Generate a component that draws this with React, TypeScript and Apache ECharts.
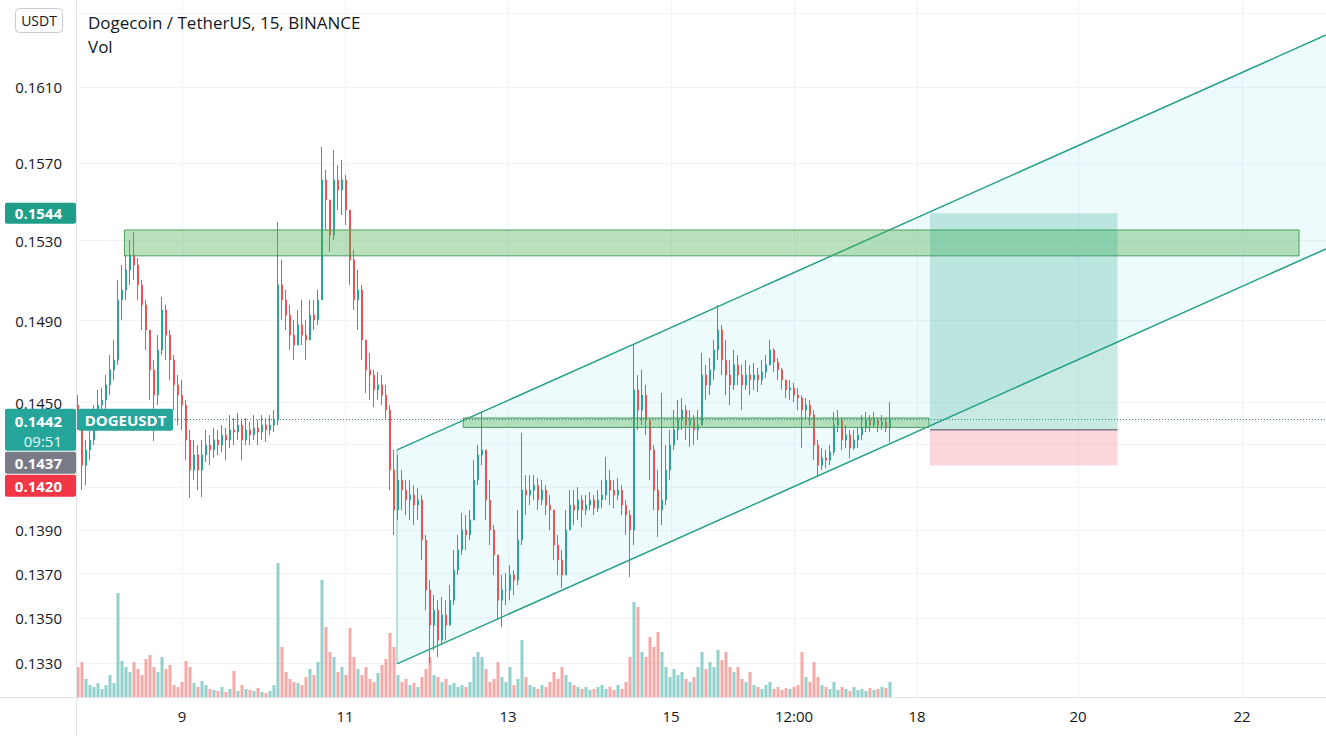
import React, { useEffect, useRef } from "react";
import * as echarts from "echarts";

// ---- Data (DOGE/USDT, one row per bar; opens follow the previous close) ----
const firstOpen = 0.14488;
const closes = [
  0.14416, 0.14202, 0.14274, 0.14321, 0.14416, 0.14488, 0.14512, 0.14585, 0.14658, 0.14706,
  0.15002, 0.15052, 0.15152, 0.15228, 0.15177, 0.15077, 0.14977, 0.14853, 0.14658, 0.14536,
  0.14755, 0.14952, 0.14828, 0.14706, 0.14585, 0.14536, 0.14488, 0.14321, 0.14179, 0.14250,
  0.14179, 0.14250, 0.14297, 0.14274, 0.14321, 0.14297, 0.14345, 0.14321, 0.14369, 0.14359,
  0.14392, 0.14321, 0.14369, 0.14345, 0.14378, 0.14359, 0.14392, 0.14369, 0.14392, 0.14416,
  0.15077, 0.15002, 0.14927, 0.14828, 0.14779, 0.14878, 0.14828, 0.14804, 0.14927, 0.14903,
  0.15002, 0.15611, 0.15508, 0.15329, 0.15611, 0.15559, 0.15611, 0.15456, 0.15202, 0.15002,
  0.15052, 0.14804, 0.14658, 0.14633, 0.14561, 0.14585, 0.14536, 0.14464, 0.14179, 0.13992,
  0.14132, 0.14085, 0.14039, 0.14062, 0.14015, 0.14039, 0.13854, 0.13626, 0.13468, 0.13535,
  0.13401, 0.13513, 0.13468, 0.13580, 0.13716, 0.13808, 0.13900, 0.13877, 0.13946, 0.14132,
  0.14250, 0.14274, 0.14039, 0.13900, 0.13785, 0.13580, 0.13626, 0.13626, 0.13694, 0.13671,
  0.13854, 0.14085, 0.14062, 0.14085, 0.14108, 0.14039, 0.14085, 0.14015, 0.13992, 0.13831,
  0.13762, 0.13694, 0.13900, 0.14015, 0.13992, 0.14039, 0.13992, 0.14015, 0.14039, 0.14001,
  0.14039, 0.14062, 0.14132, 0.14085, 0.14062, 0.14085, 0.14015, 0.13969, 0.13900, 0.14561,
  0.14464, 0.14536, 0.14416, 0.14274, 0.14085, 0.13992, 0.14039, 0.14179, 0.14297, 0.14369,
  0.14416, 0.14464, 0.14392, 0.14416, 0.14369, 0.14392, 0.14633, 0.14585, 0.14658, 0.14755,
  0.14853, 0.14706, 0.14633, 0.14585, 0.14682, 0.14633, 0.14585, 0.14633, 0.14609, 0.14633,
  0.14609, 0.14648, 0.14682, 0.14755, 0.14696, 0.14658, 0.14609, 0.14561, 0.14570, 0.14536,
  0.14522, 0.14464, 0.14488, 0.14440, 0.14297, 0.14202, 0.14236, 0.14226, 0.14264, 0.14392,
  0.14416, 0.14321, 0.14345, 0.14283, 0.14321, 0.14345, 0.14378, 0.14416, 0.14392, 0.14416,
  0.14392, 0.14407, 0.14378, 0.14420,
];
const highs = [
  0.14536, 0.14440, 0.14321, 0.14392, 0.14488, 0.14561, 0.14570, 0.14633, 0.14730, 0.14804,
  0.15102, 0.15177, 0.15228, 0.15303, 0.15344, 0.15212, 0.15102, 0.15002, 0.14853, 0.14706,
  0.14828, 0.15017, 0.14977, 0.14853, 0.14730, 0.14633, 0.14609, 0.14512, 0.14369, 0.14321,
  0.14297, 0.14321, 0.14369, 0.14345, 0.14378, 0.14369, 0.14392, 0.14378, 0.14440, 0.14426,
  0.14449, 0.14416, 0.14426, 0.14407, 0.14440, 0.14416, 0.14440, 0.14426, 0.14440, 0.14464,
  0.15395, 0.15202, 0.15052, 0.14977, 0.14903, 0.14952, 0.15002, 0.14903, 0.15002, 0.15002,
  0.15052, 0.15783, 0.15663, 0.15508, 0.15767, 0.15689, 0.15715, 0.15637, 0.15405, 0.15253,
  0.15152, 0.15077, 0.14804, 0.14740, 0.14658, 0.14648, 0.14633, 0.14585, 0.14488, 0.14274,
  0.14250, 0.14179, 0.14132, 0.14132, 0.14108, 0.14094, 0.14062, 0.13877, 0.13671, 0.13603,
  0.13580, 0.13594, 0.13580, 0.13648, 0.13808, 0.13877, 0.13978, 0.13969, 0.13992, 0.14226,
  0.14297, 0.14454, 0.14250, 0.14132, 0.13923, 0.13762, 0.13694, 0.13703, 0.13739, 0.13716,
  0.13992, 0.14355, 0.14155, 0.14155, 0.14155, 0.14141, 0.14132, 0.14108, 0.14062, 0.13992,
  0.13877, 0.13808, 0.13992, 0.14085, 0.14085, 0.14099, 0.14062, 0.14062, 0.14076, 0.14062,
  0.14085, 0.14132, 0.14240, 0.14179, 0.14132, 0.14141, 0.14108, 0.14039, 0.13992, 0.14779,
  0.14633, 0.14658, 0.14585, 0.14416, 0.14297, 0.14179, 0.14546, 0.14297, 0.14369, 0.14464,
  0.14512, 0.14522, 0.14488, 0.14464, 0.14440, 0.14464, 0.14740, 0.14682, 0.14716, 0.14804,
  0.14977, 0.14878, 0.14804, 0.14706, 0.14755, 0.14730, 0.14682, 0.14706, 0.14682, 0.14691,
  0.14667, 0.14706, 0.14730, 0.14804, 0.14764, 0.14716, 0.14667, 0.14609, 0.14609, 0.14595,
  0.14570, 0.14536, 0.14522, 0.14512, 0.14464, 0.14321, 0.14283, 0.14274, 0.14297, 0.14454,
  0.14464, 0.14426, 0.14392, 0.14369, 0.14369, 0.14378, 0.14440, 0.14454, 0.14440, 0.14454,
  0.14426, 0.14440, 0.14426, 0.14502,
];
const lows = [
  0.14369, 0.14085, 0.14108, 0.14226, 0.14297, 0.14392, 0.14416, 0.14464, 0.14536, 0.14609,
  0.14682, 0.14903, 0.15002, 0.15077, 0.15102, 0.15002, 0.14853, 0.14755, 0.14512, 0.14316,
  0.14488, 0.14730, 0.14706, 0.14609, 0.14464, 0.14392, 0.14369, 0.14226, 0.14048, 0.14132,
  0.14085, 0.14053, 0.14217, 0.14202, 0.14236, 0.14250, 0.14264, 0.14226, 0.14283, 0.14297,
  0.14321, 0.14226, 0.14297, 0.14297, 0.14321, 0.14297, 0.14321, 0.14312, 0.14345, 0.14359,
  0.14392, 0.14903, 0.14853, 0.14755, 0.14706, 0.14779, 0.14779, 0.14706, 0.14804, 0.14853,
  0.14878, 0.15002, 0.15354, 0.15243, 0.15303, 0.15456, 0.15431, 0.15379, 0.15077, 0.14952,
  0.14853, 0.14706, 0.14546, 0.14512, 0.14478, 0.14512, 0.14488, 0.14416, 0.14085, 0.13877,
  0.13946, 0.13992, 0.13969, 0.13946, 0.13923, 0.13946, 0.13762, 0.13535, 0.13300, 0.13357,
  0.13326, 0.13379, 0.13401, 0.13468, 0.13558, 0.13694, 0.13785, 0.13808, 0.13854, 0.13946,
  0.14108, 0.14202, 0.13946, 0.13831, 0.13694, 0.13491, 0.13459, 0.13558, 0.13580, 0.13603,
  0.13648, 0.13831, 0.13969, 0.14015, 0.14039, 0.13992, 0.14015, 0.13969, 0.13900, 0.13762,
  0.13694, 0.13635, 0.13694, 0.13900, 0.13923, 0.13946, 0.13914, 0.13969, 0.13992, 0.13969,
  0.13983, 0.14001, 0.14039, 0.14015, 0.14001, 0.14039, 0.13969, 0.13877, 0.13685, 0.13831,
  0.14369, 0.14392, 0.14345, 0.14132, 0.13992, 0.13868, 0.13923, 0.14015, 0.14132, 0.14274,
  0.14321, 0.14369, 0.14321, 0.14288, 0.14297, 0.14321, 0.14392, 0.14512, 0.14536, 0.14609,
  0.14706, 0.14633, 0.14536, 0.14488, 0.14561, 0.14585, 0.14464, 0.14561, 0.14536, 0.14561,
  0.14551, 0.14585, 0.14619, 0.14682, 0.14648, 0.14609, 0.14561, 0.14522, 0.14512, 0.14502,
  0.14464, 0.14283, 0.14416, 0.14392, 0.14226, 0.14146, 0.14179, 0.14188, 0.14202, 0.14250,
  0.14359, 0.14274, 0.14283, 0.14236, 0.14274, 0.14283, 0.14321, 0.14359, 0.14359, 0.14378,
  0.14359, 0.14369, 0.14359, 0.14312,
];
// volume, millions of DOGE
const volumes = [
  6.0, 7.0, 3.6, 2.4, 2.0, 2.8, 1.6, 2.4, 4.4, 2.8,
  20.8, 7.2, 6.0, 5.0, 7.0, 5.6, 4.4, 7.6, 8.4, 6.0,
  5.0, 8.0, 5.6, 6.4, 2.4, 2.0, 3.0, 7.2, 6.0, 2.8,
  2.0, 3.2, 2.4, 1.6, 1.4, 1.2, 2.0, 1.0, 1.6, 5.2,
  1.2, 2.4, 1.6, 1.4, 1.2, 1.8, 1.0, 0.8, 1.2, 2.4,
  26.8, 10.0, 5.0, 3.6, 3.0, 2.8, 2.4, 4.0, 5.6, 4.4,
  7.0, 23.4, 14.0, 9.0, 8.0, 5.0, 6.0, 4.4, 13.8, 8.0,
  5.6, 4.4, 6.0, 3.6, 3.0, 4.8, 6.4, 7.6, 12.8, 10.0,
  4.4, 3.0, 3.6, 2.4, 2.8, 2.0, 4.0, 5.6, 8.0, 4.4,
  4.0, 3.0, 3.6, 2.4, 2.8, 2.0, 2.4, 2.0, 3.0, 8.0,
  9.0, 8.0, 5.6, 3.0, 3.6, 7.0, 4.0, 3.0, 6.0, 2.4,
  3.6, 11.4, 4.0, 2.4, 2.0, 1.6, 2.4, 2.0, 3.0, 5.0,
  3.6, 6.0, 4.4, 3.0, 2.4, 2.0, 1.6, 2.0, 1.4, 1.6,
  2.0, 2.4, 1.6, 2.0, 1.4, 2.4, 1.6, 3.0, 8.0, 19.0,
  18.0, 9.0, 8.0, 12.0, 10.0, 13.0, 9.0, 6.0, 4.0, 5.6,
  4.4, 5.0, 3.6, 3.0, 4.0, 6.0, 9.0, 5.6, 7.0, 6.0,
  9.4, 7.4, 9.0, 6.0, 5.0, 6.0, 3.6, 3.0, 5.0, 2.4,
  2.0, 1.6, 2.4, 3.0, 1.6, 2.0, 1.4, 1.8, 1.6, 2.0,
  2.4, 9.0, 4.0, 3.0, 7.0, 4.0, 2.4, 2.0, 1.6, 3.0,
  1.4, 2.0, 1.6, 1.2, 2.0, 1.4, 1.6, 1.2, 1.8, 1.4,
  1.6, 2.0, 1.8, 3.0,
];

// axis ticks
const xTickPos = [26, 66.75, 107.5, 148.25, 179, 209.75, 250, 291];
const xTickLabels = ["9", "11", "13", "15", "12:00", "18", "20", "22"];
// grid levels; 0.1410, 0.1430 and 0.1650 are covered by the price tags / currency button
const yGridTicks = [0.133, 0.135, 0.137, 0.139, 0.141, 0.143, 0.145, 0.149, 0.153, 0.157, 0.161, 0.165];
const yLabelTicks = [0.133, 0.135, 0.137, 0.139, 0.145, 0.149, 0.153, 0.157, 0.161];
const priceMin = 0.13151;
const priceMax = 0.16571;
const barIndexMin = -0.5;
const barIndexMax = 312;

// drawings (bar index, price)
const resistanceZone = [11.6, 305.25, 0.15354, 0.15223];
const supportZone = [96.3, 212.75, 0.14426, 0.14381];
const channelX = [79.75, 312];
const channelLower = [0.13296, 0.15258];
const channelUpper = [0.14274, 0.1638];
const longX = [213, 259.9];
const longPrices = [0.1544, 0.1437, 0.142]; // target, entry, stop
const lastPrice = 0.1442;
const countdown = "09:51";

const UP = "#26a69a";
const DOWN = "#ef5350";
const FONT = "'Open Sans', 'Noto Sans', sans-serif";

export default function App() {
  const ref = useRef<HTMLDivElement>(null);
  useEffect(() => {
    if (!ref.current) return;
    const chart = echarts.init(ref.current, null, { renderer: "svg" });
    const L = Math.log;
    const n = Math.min(closes.length, highs.length, lows.length, volumes.length);
    const candleData: number[][] = [];
    const volData: any[] = [];
    for (let i = 0; i < n; i++) {
      const o = i === 0 ? firstOpen : closes[i - 1];
      const c = closes[i];
      const h = Math.max(highs[i], o, c);
      const l = Math.min(lows[i], o, c);
      candleData.push([i, L(o), L(c), L(l), L(h)]);
      volData.push({
        value: [i, volumes[i]],
        itemStyle: { color: c >= o ? "rgba(38,166,154,0.5)" : "rgba(239,83,80,0.5)" },
      });
    }

    const rectItem = (api: any, x0: number, x1: number, p0: number, p1: number, style: any) => {
      const a = api.coord([x0, L(p0)]);
      const b = api.coord([x1, L(p1)]);
      return {
        type: "rect",
        shape: { x: Math.min(a[0], b[0]), y: Math.min(a[1], b[1]), width: Math.abs(b[0] - a[0]), height: Math.abs(b[1] - a[1]) },
        style,
      };
    };

    const option: any = {
      animation: false,
      backgroundColor: "#ffffff",
      grid: [
        { left: 76, top: 0, width: 1250, height: 697 },
        { left: 76, top: 547, width: 1250, height: 150 },
      ],
      xAxis: [
        {
          type: "value",
          gridIndex: 0,
          min: barIndexMin,
          max: barIndexMax,
          axisLine: { show: true, lineStyle: { color: "#e0e3eb" } },
          axisTick: { show: false, customValues: xTickPos },
          axisLabel: {
            customValues: xTickPos,
            color: "#131722",
            fontSize: 15,
            fontFamily: FONT,
            margin: 11,
            formatter: (v: number) => {
              const k = xTickPos.findIndex((p) => Math.abs(p - v) < 1e-6);
              return k >= 0 ? xTickLabels[k] : "";
            },
          },
          splitLine: { show: true, lineStyle: { color: "#f0f3fa", width: 1 } },
        },
        { type: "value", gridIndex: 1, min: barIndexMin, max: barIndexMax, show: false, splitLine: { show: false } },
      ],
      yAxis: [
        {
          type: "value",
          gridIndex: 0,
          position: "left",
          min: L(priceMin),
          max: L(priceMax),
          axisLine: { show: false },
          axisTick: { show: false, customValues: yGridTicks.map(L) },
          axisLabel: {
            customValues: yLabelTicks.map(L),
            color: "#131722",
            fontSize: 15,
            fontFamily: FONT,
            margin: 14,
            lineHeight: 15,
            formatter: (v: number) => Math.exp(v).toFixed(4),
          },
          splitLine: { show: true, lineStyle: { color: "#f0f3fa", width: 1 } },
        },
        { type: "value", gridIndex: 1, min: 0, max: 30, show: false, splitLine: { show: false } },
      ],
      series: [
        {
          type: "bar",
          xAxisIndex: 1,
          yAxisIndex: 1,
          data: volData,
          barWidth: 3,
          z: 1,
          silent: true,
        },
        {
          type: "custom",
          xAxisIndex: 0,
          yAxisIndex: 0,
          z: 1,
          silent: true,
          data: [[channelX[0], L(channelLower[0])]],
          renderItem: (_p: any, api: any) => {
            const l0 = api.coord([channelX[0], L(channelLower[0])]);
            const l1 = api.coord([channelX[1], L(channelLower[1])]);
            const u0 = api.coord([channelX[0], L(channelUpper[0])]);
            const u1 = api.coord([channelX[1], L(channelUpper[1])]);
            return {
              type: "group",
              children: [
                { type: "polygon", shape: { points: [l0, l1, u1, u0] }, style: { fill: "rgba(38,198,218,0.08)" } },
                { type: "line", shape: { x1: l0[0], y1: l0[1], x2: l1[0], y2: l1[1] }, style: { stroke: "#26a08a", lineWidth: 1.5 } },
                { type: "line", shape: { x1: u0[0], y1: u0[1], x2: u1[0], y2: u1[1] }, style: { stroke: "#26a08a", lineWidth: 1.5 } },
                { type: "line", shape: { x1: l0[0], y1: l0[1], x2: u0[0], y2: u0[1] }, style: { stroke: "rgba(38,160,138,0.6)", lineWidth: 1 } },
              ],
            };
          },
        },
        {
          type: "candlestick",
          xAxisIndex: 0,
          yAxisIndex: 0,
          data: candleData,
          encode: { x: 0, y: [1, 2, 3, 4] },
          barWidth: 2,
          z: 2,
          silent: true,
          itemStyle: { color: UP, color0: DOWN, borderColor: UP, borderColor0: DOWN, borderWidth: 1 },
        },
        {
          type: "custom",
          xAxisIndex: 0,
          yAxisIndex: 0,
          z: 3,
          silent: true,
          data: [[resistanceZone[0], L(resistanceZone[2])]],
          renderItem: (_p: any, api: any) => {
            const d0 = api.coord([barIndexMin, L(lastPrice)]);
            const d1 = api.coord([barIndexMax, L(lastPrice)]);
            return {
              type: "group",
              children: [
                rectItem(api, resistanceZone[0], resistanceZone[1], resistanceZone[2], resistanceZone[3], {
                  fill: "rgba(76,175,80,0.38)",
                  stroke: "#4a9e5c",
                  lineWidth: 1,
                }),
                rectItem(api, supportZone[0], supportZone[1], supportZone[2], supportZone[3], {
                  fill: "rgba(76,175,80,0.38)",
                  stroke: "#4a9e5c",
                  lineWidth: 1,
                }),
                {
                  type: "line",
                  shape: { x1: d0[0], y1: Math.round(d0[1]) + 0.5, x2: d1[0], y2: Math.round(d1[1]) + 0.5 },
                  style: { stroke: "#3c7f79", lineWidth: 1, lineDash: [1, 2] },
                },
              ],
            };
          },
        },
        {
          type: "custom",
          xAxisIndex: 0,
          yAxisIndex: 0,
          z: 4,
          silent: true,
          data: [[longX[0], L(longPrices[1])]],
          renderItem: (_p: any, api: any) => {
            const e0 = api.coord([longX[0], L(longPrices[1])]);
            const e1 = api.coord([longX[1], L(longPrices[1])]);
            return {
              type: "group",
              children: [
                rectItem(api, longX[0], longX[1], longPrices[0], longPrices[1], { fill: "rgba(8,153,129,0.22)" }),
                rectItem(api, longX[0], longX[1], longPrices[1], longPrices[2], { fill: "rgba(242,54,69,0.2)" }),
                { type: "line", shape: { x1: e0[0], y1: e0[1], x2: e1[0], y2: e1[1] }, style: { stroke: "#787b86", lineWidth: 1.5 } },
              ],
            };
          },
        },
      ],
    };
    chart.setOption(option);

    const py = (p: number) => chart.convertToPixel({ yAxisIndex: 0 }, L(p)) as number;
    const txt = (x: number, y: number, text: string, font: string, fill: string, align = "left") => ({
      type: "text",
      x,
      y,
      silent: true,
      z: 100,
      style: { text, font, fill, align, textAlign: align, verticalAlign: "middle", textVerticalAlign: "middle", lineHeight: 15 },
    });
    const tagFont = `bold 15px ${FONT}`;
    const yT = py(longPrices[0]);
    const yL = py(lastPrice);
    const lastTop = yL - 10.5;
    const entryTop = lastTop + 43;
    const stopTop = entryTop + 23;
    const graphic: any[] = [
      { type: "line", shape: { x1: 76.5, y1: 0, x2: 76.5, y2: 736 }, style: { stroke: "#e0e3eb", lineWidth: 1 }, z: 50, silent: true },
      { type: "line", shape: { x1: 0, y1: 697.5, x2: 76, y2: 697.5 }, style: { stroke: "#e0e3eb", lineWidth: 1 }, z: 50, silent: true },
      // currency button
      { type: "rect", shape: { x: 15.5, y: 8.5, width: 47, height: 24, r: 4 }, style: { fill: "#ffffff", stroke: "#c9ccd6", lineWidth: 1 }, z: 90, silent: true },
      txt(39, 20.5, "USDT", `14px ${FONT}`, "#131722", "center"),
      txt(88, 22, "Dogecoin / TetherUS, 15, BINANCE", `17px ${FONT}`, "#131722"),
      txt(88, 46, "Vol", `17px ${FONT}`, "#131722"),
      // target tag
      { type: "rect", shape: { x: 5, y: yT - 10.5, width: 71, height: 21, r: 2 }, style: { fill: "#1f9e89" }, z: 90, silent: true },
      txt(62, yT, longPrices[0].toFixed(4), tagFont, "#ffffff", "right"),
      // last price tag
      { type: "rect", shape: { x: 5, y: lastTop, width: 71, height: 42, r: 2 }, style: { fill: UP }, z: 90, silent: true },
      txt(62, yL + 1.5, lastPrice.toFixed(4), tagFont, "#ffffff", "right"),
      txt(62, yL + 21.5, countdown, `15px ${FONT}`, "#e6f7f4", "right"),
      { type: "rect", shape: { x: 78, y: lastTop, width: 95, height: 22, r: 2 }, style: { fill: UP }, z: 90, silent: true },
      txt(125.5, yL + 0.5, "DOGEUSDT", tagFont, "#ffffff", "center"),
      // entry tag
      { type: "rect", shape: { x: 5, y: entryTop, width: 71, height: 22, r: 2 }, style: { fill: "#787b86" }, z: 90, silent: true },
      txt(62, entryTop + 11, longPrices[1].toFixed(4), tagFont, "#ffffff", "right"),
      // stop tag
      { type: "rect", shape: { x: 5, y: stopTop, width: 71, height: 22, r: 2 }, style: { fill: "#f23645" }, z: 90, silent: true },
      txt(62, stopTop + 11, longPrices[2].toFixed(4), tagFont, "#ffffff", "right"),
    ];
    chart.setOption({ graphic });

    return () => chart.dispose();
  }, []);

  return (
    <div
      ref={ref}
      style={{ position: "fixed", left: 0, top: 0, width: 1326, height: 736, background: "#ffffff" }}
    />
  );
}
